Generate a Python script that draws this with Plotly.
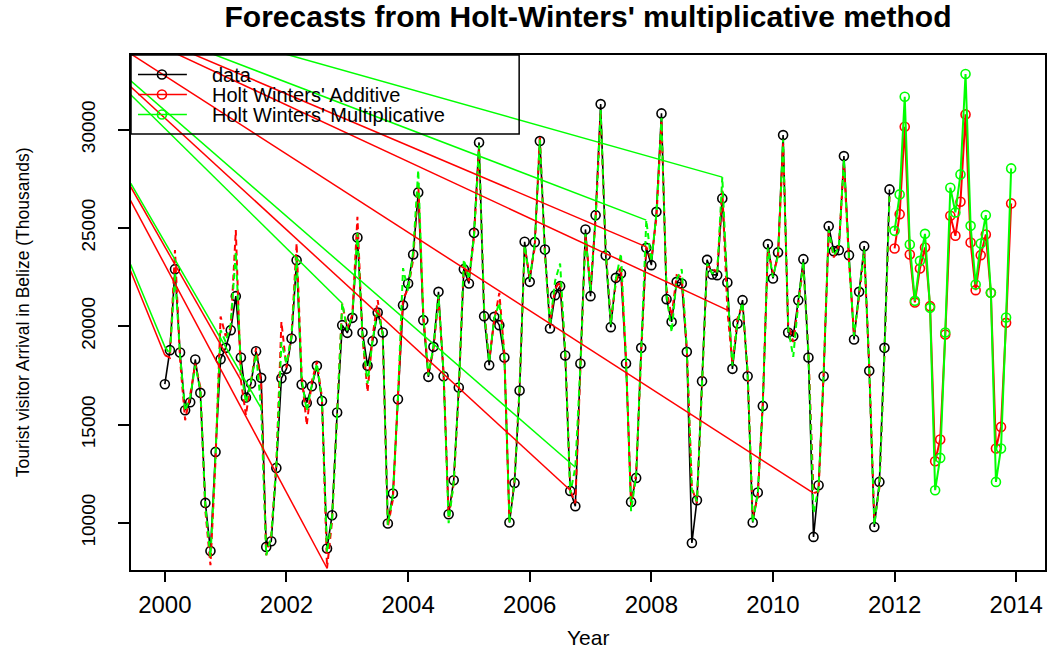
import numpy as np
import plotly.graph_objects as go

# ---------------- data ----------------
start_year = 2000
tourist_arrivals = [
    17056, 18785, 22905, 18668, 15734, 16141, 18312, 16614, 11019, 8578, 13613, 18328,
    18902, 19803, 21532, 18414, 16379, 17092, 18734, 17377, 8782, 9072, 12799, 17361,
    17835, 19380, 23363, 17041, 16105, 16954, 17987, 16207, 8700, 10393, 15617, 20057,
    19665, 20428, 24517, 19686, 17987, 19243, 20703, 19686, 9971, 11497, 16293, 21074,
    22178, 23653, 26806, 20311, 17428, 18954, 21750, 17463, 10444, 12173, 16888, 22905,
    22178, 24751, 29349, 20515, 18023, 20479, 20057, 18414, 10023, 12036, 16735, 24294,
    22259, 24278, 29415, 23907, 19889, 21583, 22040, 18516, 11629, 10851, 18108, 24924,
    21532, 25651, 31297, 23602, 19955, 22462, 22686, 18108, 11070, 12291, 18902, 23988,
    23108, 25819, 30824, 21379, 20225, 22259, 22178, 18699, 8984, 11157, 17209, 23378,
    22636, 22600, 26501, 22228, 17835, 20143, 21328, 17463, 10023, 11548, 15952, 24176,
    22432, 23755, 29720, 19686, 19497, 21328, 23413, 18414, 9290, 11919, 17463, 25092,
    23820, 23871, 28652, 23617, 19329, 21750, 24075, 17733, 9798, 12087, 18902, 26959,
]

fitted_additive = [
    18530, 18400, 23870, 18300, 15225, 16500, 18100, 16900, 10600, 7850, 13200, 20500,
    19500, 19900, 24890, 17258, 15480, 17300, 18900, 17100, 8360, 9400, 13000, 20225,
    17900, 19600, 24212, 17500, 14970, 17200, 18200, 16400, 7696, 10100, 15300, 21160,
    19900, 20600, 25565, 19400, 16665, 19500, 21328, 19500, 9800, 11200, 16500, 21400,
    21900, 23400, 27300, 20600, 17600, 18800, 21400, 17700, 10300, 12000, 16700, 23200,
    22300, 24500, 29000, 20900, 18300, 20300, 21700, 18600, 10100, 12200, 16900, 24000,
    22500, 24000, 29700, 23600, 20200, 21900, 22300, 18800, 11664, 11000, 17800, 24600,
    22000, 25400, 30800, 23900, 20300, 22200, 23000, 18400, 10900, 12500, 18600, 24040,
    23400, 25500, 30400, 21900, 20500, 22600, 22500, 18900, 11800, 11000, 17000, 23100,
    22900, 22800, 26900, 20819, 18100, 20400, 21100, 17700, 10300, 11300, 16200, 23900,
    22700, 23500, 29300, 20100, 19200, 21100, 23100, 18700, 11511, 11600, 17700, 24800,
    23500, 24100, 28300, 23300, 19600, 21500, 23800, 18000, 10100, 11800, 18600, 26600,
]

fitted_multiplicative = [
    18952, 18600, 22700, 18500, 15700, 16400, 18000, 16800, 10800, 8270, 13400, 19800,
    19200, 20100, 23785, 17900, 16100, 17200, 18600, 15834, 8360, 9300, 12900, 19200,
    18100, 19500, 23531, 17300, 15700, 17000, 18100, 16300, 8500, 10200, 15500, 21175,
    19800, 20500, 24735, 19500, 17090, 19300, 20900, 19600, 9900, 11400, 16400, 22955,
    21800, 23800, 27940, 20500, 17500, 19000, 21600, 17600, 9985, 12100, 16800, 23400,
    22400, 24600, 29200, 20700, 18200, 20400, 21200, 18500, 10000, 12100, 16800, 24100,
    22400, 24200, 29500, 23700, 20000, 22300, 23195, 18700, 11500, 12833, 18000, 24700,
    21800, 25500, 31000, 23800, 20100, 22400, 23700, 18300, 10600, 12400, 18800, 25397,
    23300, 25700, 30600, 21600, 19700, 22400, 22900, 18800, 11665, 11100, 17100, 23200,
    22700, 22700, 27584, 21900, 18000, 20200, 21200, 17600, 10000, 11500, 16000, 24000,
    22500, 23600, 29500, 19900, 18445, 21200, 23300, 18500, 10500, 11800, 17600, 24900,
    23600, 24000, 28500, 23400, 19500, 21600, 23900, 17900, 9900, 11900, 18700, 26800,
]

forecast_additive = [
    23958, 25702, 30142, 23653, 21211, 22941, 24009, 21023, 13140, 14244, 19584, 25616,
    24599, 26328, 30773, 24263, 21837, 23617, 24670, 21700, 13786, 14884, 20174, 26247,
]

forecast_multiplicative = [
    24853, 26704, 31668, 24161, 21293, 23327, 24700, 20937, 11665, 13307, 19686, 27040,
    25789, 27722, 32823, 25107, 22127, 24212, 25651, 21700, 12087, 13786, 20449, 28027,
]

# stray straight segments in the original R output: each runs from a common
# point outside the plot to one fitted value (month index into the fitted series)
stray_anchor_time = 1997.47
stray_anchor_value = 37770
stray_months_additive = [0, 15, 32, 80, 95, 111, 128]
stray_months_multiplicative = [0, 19, 35, 81, 95, 110]

x_ticks = [2000, 2002, 2004, 2006, 2008, 2010, 2012, 2014]
y_ticks = [10000, 15000, 20000, 25000, 30000]
legend_labels = ["data", "Holt Winters' Additive", "Holt Winters' Multiplicative"]

# ---------------- derived positions ----------------
n_obs = len(tourist_arrivals)
t_obs = start_year + np.arange(n_obs) / 12.0
t_fc = start_year + (n_obs + np.arange(len(forecast_additive))) / 12.0

def stray_xy(months, fitted):
    xs, ys = [], []
    for m in months:
        xs += [stray_anchor_time, t_obs[m], None]
        ys += [stray_anchor_value, fitted[m], None]
    return xs, ys

all_x = np.concatenate([t_obs, t_fc])
all_y = np.concatenate([tourist_arrivals, forecast_additive, forecast_multiplicative])
xspan = all_x.max() - all_x.min()
yspan = all_y.max() - all_y.min()
x_range = [all_x.min() - 0.04 * xspan, all_x.max() + 0.04 * xspan]
y_range = [all_y.min() - 0.04 * yspan, all_y.max() + 0.04 * yspan]

RED = "#FF0000"
GREEN = "#00FF00"
BLACK = "#000000"
FONT = "Liberation Sans, Arial, Helvetica, sans-serif"
MS = 9

fig = go.Figure()

fig.add_trace(go.Scatter(
    x=t_obs, y=tourist_arrivals, mode="lines+markers",
    line=dict(color=BLACK, width=1.6),
    marker=dict(symbol="circle-open", size=MS, color=BLACK, line=dict(width=1.6, color=BLACK)),
    name=legend_labels[0], showlegend=False))

fig.add_trace(go.Scatter(
    x=t_obs, y=fitted_additive, mode="lines",
    line=dict(color=RED, width=2, dash="6px,4px"), showlegend=False))
fig.add_trace(go.Scatter(
    x=t_obs, y=fitted_multiplicative, mode="lines",
    line=dict(color=GREEN, width=2, dash="6px,4px"), showlegend=False))

sx, sy = stray_xy(stray_months_additive, fitted_additive)
fig.add_trace(go.Scatter(x=sx, y=sy, mode="lines", line=dict(color=RED, width=1.5),
                         connectgaps=False, showlegend=False))
sx, sy = stray_xy(stray_months_multiplicative, fitted_multiplicative)
fig.add_trace(go.Scatter(x=sx, y=sy, mode="lines", line=dict(color=GREEN, width=1.5),
                         connectgaps=False, showlegend=False))

fig.add_trace(go.Scatter(
    x=t_fc, y=forecast_additive, mode="lines+markers",
    line=dict(color=RED, width=2),
    marker=dict(symbol="circle-open", size=MS, color=RED, line=dict(width=1.6, color=RED)),
    name=legend_labels[1], showlegend=False))
fig.add_trace(go.Scatter(
    x=t_fc, y=forecast_multiplicative, mode="lines+markers",
    line=dict(color=GREEN, width=2),
    marker=dict(symbol="circle-open", size=MS, color=GREEN, line=dict(width=1.6, color=GREEN)),
    name=legend_labels[2], showlegend=False))

# ---------------- layout ----------------
W, H = 1051, 649
ML, MR, MT, MB = 131, 4, 55, 79
PW, PH = W - ML - MR, H - MT - MB

def px2paper_x(px):
    return (px - ML) / PW

def py2paper_y(py):
    return (H - MB - py) / PH

axis_common = dict(
    showline=True, mirror=True, linecolor=BLACK, linewidth=1.5,
    ticks="outside", tickcolor=BLACK, tickwidth=1.5,
    showgrid=False, zeroline=False,
)

fig.update_layout(
    width=W, height=H,
    margin=dict(l=ML, r=MR, t=MT, b=MB, pad=0),
    plot_bgcolor="white", paper_bgcolor="white",
    showlegend=False,
    font=dict(family=FONT, color=BLACK),
    title=dict(text="<b>Forecasts from Holt-Winters' multiplicative method</b>",
               x=0.5, xref="paper", xanchor="center",
               y=1 - 16 / H, yref="container", yanchor="middle",
               font=dict(size=30, family=FONT, color=BLACK)),
    xaxis=dict(range=x_range, tickvals=x_ticks, ticktext=[str(v) for v in x_ticks],
               ticklen=10, tickfont=dict(size=24, family=FONT), ticklabelstandoff=2,
               **axis_common),
    yaxis=dict(range=y_range, tickvals=y_ticks, ticktext=[str(v) for v in y_ticks],
               tickangle=-90, ticklen=11, tickfont=dict(size=19, family=FONT),
               ticklabelstandoff=16, **axis_common),
)

annotations = [
    dict(text="Year", x=0.5, xref="paper", y=py2paper_y(637), yref="paper",
         xanchor="center", yanchor="middle", showarrow=False,
         font=dict(size=21, family=FONT, color=BLACK)),
    dict(text="Tourist visitor Arrival in Belize (Thousands)", x=px2paper_x(23), xref="paper",
         y=py2paper_y(312), yref="paper", textangle=-90,
         xanchor="center", yanchor="middle", showarrow=False,
         font=dict(size=17.5, family=FONT, color=BLACK)),
]

# legend (drawn by hand like R's legend box)
shapes = [dict(type="rect", xref="paper", yref="paper",
               x0=0, x1=px2paper_x(520), y0=py2paper_y(134), y1=1,
               line=dict(color=BLACK, width=1.5), fillcolor="rgba(0,0,0,0)", layer="above")]
legend_colors = [BLACK, RED, GREEN]
legend_rows_px = [74.5, 94.5, 114.5]
for lab, col, ry in zip(legend_labels, legend_colors, legend_rows_px):
    yp = py2paper_y(ry)
    shapes.append(dict(type="line", xref="paper", yref="paper",
                       x0=px2paper_x(138), x1=px2paper_x(187), y0=yp, y1=yp,
                       line=dict(color=col, width=1.6), layer="above"))
    shapes.append(dict(type="circle", xref="paper", yref="paper",
                       xsizemode="pixel", ysizemode="pixel",
                       xanchor=px2paper_x(162), yanchor=yp,
                       x0=-MS / 2, x1=MS / 2, y0=-MS / 2, y1=MS / 2,
                       line=dict(color=col, width=1.6), fillcolor="rgba(0,0,0,0)", layer="above"))
    annotations.append(dict(text=lab, x=px2paper_x(210), xref="paper", y=yp, yref="paper",
                            xanchor="left", yanchor="middle", showarrow=False,
                            font=dict(size=20, family=FONT, color=BLACK)))

fig.update_layout(annotations=annotations, shapes=shapes)

fig.write_html("out.html")
